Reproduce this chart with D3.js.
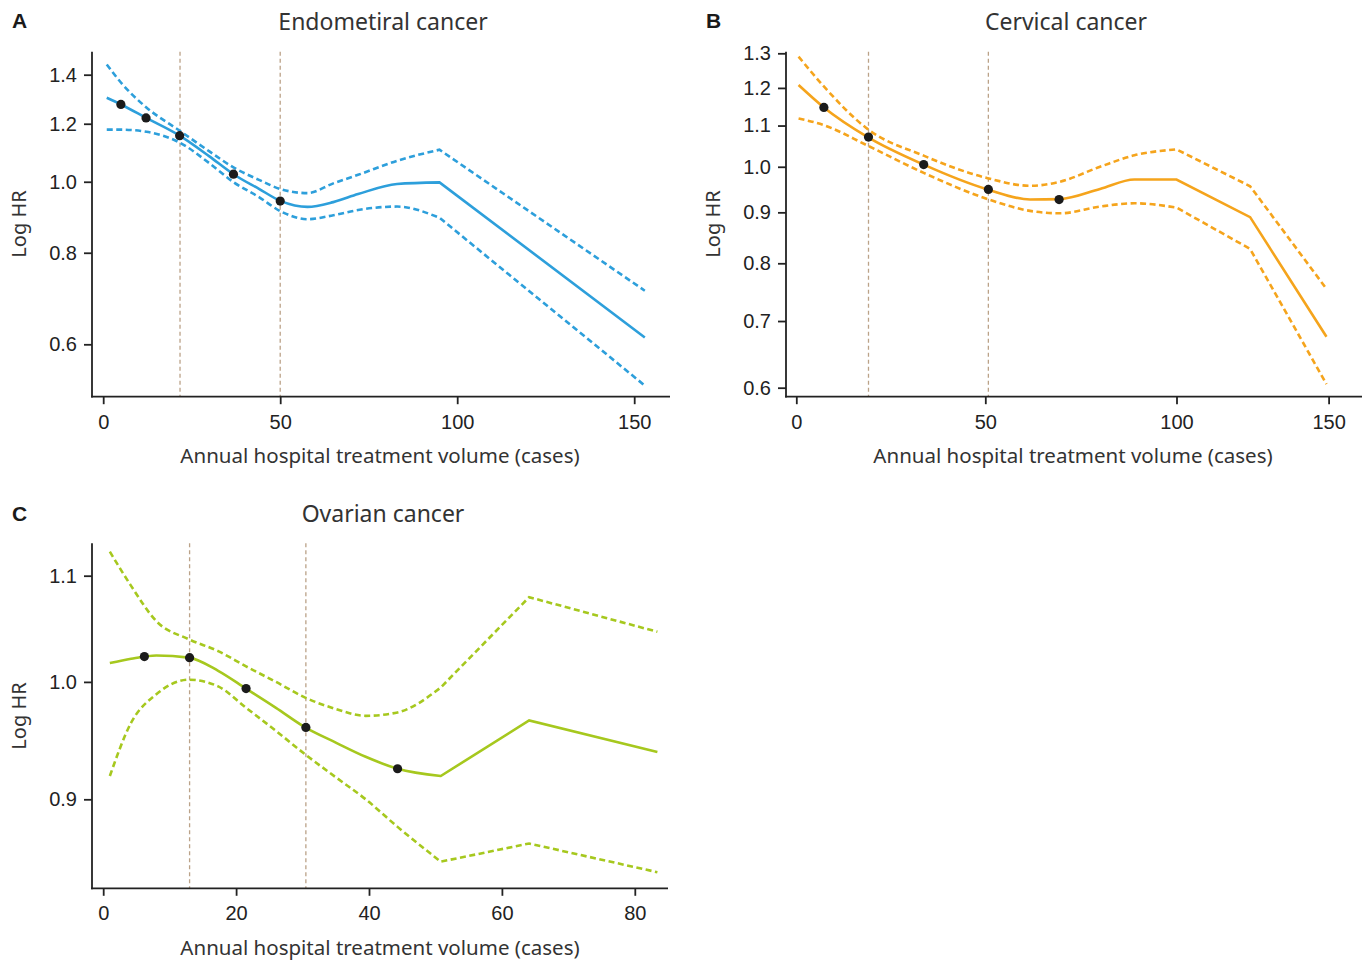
<!DOCTYPE html>
<html><head><meta charset="utf-8">
<script src="https://cdn.jsdelivr.net/npm/d3@7"></script>
<style>body{margin:0;background:#fff} svg{display:block}</style>
</head><body>
<svg id="c" width="1371" height="962"></svg>
<script>
// ---------------- DATA ----------------
// A: Endometrial cancer
const endoX     = [1, 5, 12.2, 21.6, 30, 36.8, 44, 50.2, 57.7, 65, 72, 83, 95, 153];
const endoFit   = [1.302, 1.275, 1.222, 1.156, 1.083, 1.024, 0.978, 0.941, 0.924, 0.938, 0.962, 0.993, 0.998, 0.613];
const endoUpper = [1.446, 1.366, 1.263, 1.174, 1.100, 1.046, 1.006, 0.977, 0.965, 0.995, 1.022, 1.068, 1.106, 0.710];
const endoLower = [1.178, 1.178, 1.170, 1.131, 1.060, 0.999, 0.953, 0.911, 0.889, 0.900, 0.915, 0.925, 0.893, 0.527];
const endoDotX  = [5.0, 12.1, 21.6, 36.8, 50.0];
const endoDotV  = [1.275, 1.222, 1.156, 1.024, 0.941];
const endoCuts  = [21.7, 50.0];

// B: Cervical cancer
const cervX     = [0.6, 7.3, 18.9, 33.7, 50.6, 61.7, 69.5, 80, 89, 100, 124.2, 149.3];
const cervFit   = [1.208, 1.147, 1.071, 1.005, 0.949, 0.927, 0.928, 0.950, 0.971, 0.971, 0.890, 0.675];
const cervUpper = [1.290, 1.204, 1.091, 1.026, 0.974, 0.957, 0.966, 1.000, 1.027, 1.041, 0.956, 0.754];
const cervLower = [1.118, 1.101, 1.050, 0.986, 0.928, 0.903, 0.898, 0.912, 0.919, 0.910, 0.827, 0.605];
const cervDotX  = [7.3, 19.1, 33.7, 50.8, 69.3];
const cervDotV  = [1.147, 1.071, 1.005, 0.949, 0.927];
const cervCuts  = [19.1, 50.8];

// C: Ovarian cancer
const ovarX     = [1, 4.2, 8, 12.9, 17.3, 21.5, 26, 30.4, 35, 39.5, 44.3, 50.8, 64.1, 83.4];
const ovarFit   = [1.017, 1.021, 1.024, 1.022, 1.010, 0.994, 0.977, 0.960, 0.947, 0.935, 0.925, 0.919, 0.966, 0.939];
const ovarUpper = [1.124, 1.090, 1.056, 1.039, 1.028, 1.014, 1.000, 0.986, 0.976, 0.970, 0.973, 0.995, 1.079, 1.046];
const ovarLower = [0.919, 0.964, 0.989, 1.002, 0.996, 0.977, 0.957, 0.937, 0.918, 0.900, 0.878, 0.851, 0.865, 0.843];
const ovarDotX  = [6.2, 13.0, 21.5, 30.5, 44.3];
const ovarDotV  = [1.023, 1.022, 0.994, 0.960, 0.925];
const ovarCuts  = [13.0, 30.5];

const yTicksA = [0.6, 0.8, 1.0, 1.2, 1.4];
const yTicksB = [0.6, 0.7, 0.8, 0.9, 1.0, 1.1, 1.2, 1.3];
const yTicksC = [0.9, 1.0, 1.1];
const xTicksA = [0, 50, 100, 150];
const xTicksB = [0, 50, 100, 150];
const xTicksC = [0, 20, 40, 60, 80];

const titles = ["Endometiral cancer", "Cervical cancer", "Ovarian cancer"];
const letters = ["A", "B", "C"];
const xTitle = "Annual hospital treatment volume (cases)";
const yTitle = "Log HR";

// ---------------- DRAW ----------------
const svg = d3.select('#c');
const TXT = '#222';

function drawPanel(cfg) {
  const g = svg.append('g');
  const x = cfg.x, y = cfg.y;

  // reference lines
  cfg.cuts.forEach(c => {
    g.append('line').attr('x1', x(c)).attr('x2', x(c))
      .attr('y1', cfg.top).attr('y2', cfg.bottom)
      .attr('stroke', '#bba288').attr('stroke-width', 1.3)
      .attr('stroke-dasharray', '4,3');
  });

  const line = d3.line().x(d => x(d[0])).y(d => y(d[1])).curve(d3.curveMonotoneX);
  function pathFor(xs, vs) {
    const pts = xs.map((xv, i) => [xv, vs[i]]);
    const smooth = pts.filter(p => p[0] <= cfg.knot);
    const tail = pts.filter(p => p[0] > cfg.knot);
    return line(smooth) + tail.map(p => 'L' + x(p[0]) + ',' + y(p[1])).join('');
  }
  [cfg.upper, cfg.lower].forEach(vs => {
    g.append('path').attr('d', pathFor(cfg.xs, vs))
      .attr('fill', 'none').attr('stroke', cfg.color).attr('stroke-width', 2.6)
      .attr('stroke-dasharray', '6,3.5');
  });
  g.append('path').attr('d', pathFor(cfg.xs, cfg.fit))
    .attr('fill', 'none').attr('stroke', cfg.color).attr('stroke-width', 2.6);

  g.selectAll('circle.dot').data(cfg.dotX.map((d, i) => [d, cfg.dotV[i]]))
    .enter().append('circle').attr('class', 'dot')
    .attr('cx', d => x(d[0])).attr('cy', d => y(d[1])).attr('r', 4.6)
    .attr('fill', '#1b1b1b');

  // y axis
  const ya = g.append('g').attr('transform', `translate(${cfg.left},0)`)
    .call(d3.axisLeft(y).tickValues(cfg.yTicks).tickFormat(d3.format('.1f'))
      .tickSize(8).tickPadding(7));
  ya.select('.domain').remove();
  // x axis
  const xa = g.append('g').attr('transform', `translate(0,${cfg.bottom})`)
    .call(d3.axisBottom(x).tickValues(cfg.xTicks).tickFormat(d3.format('d'))
      .tickSize(7.5).tickPadding(10.5));
  xa.select('.domain').remove();
  [ya, xa].forEach(a => {
    a.attr('font-family', 'Liberation Sans, Arial, sans-serif').attr('font-size', 20);
    a.selectAll('.tick line').attr('stroke', '#222').attr('stroke-width', 1.8);
    a.selectAll('.tick text').attr('fill', TXT)
      .style('font-family', '"Liberation Sans", Arial, sans-serif').style('font-size', '20px');
  });
  g.append('line').attr('x1', cfg.left).attr('x2', cfg.left)
    .attr('y1', cfg.top).attr('y2', cfg.bottom + 0.9)
    .attr('stroke', '#222').attr('stroke-width', 1.8);
  g.append('line').attr('x1', cfg.left - 0.9).attr('x2', cfg.right)
    .attr('y1', cfg.bottom).attr('y2', cfg.bottom)
    .attr('stroke', '#222').attr('stroke-width', 1.8);

  // texts
  const font = '"Noto Sans", "Open Sans", sans-serif';
  g.append('text').attr('x', cfg.titleX).attr('y', cfg.titleY)
    .attr('text-anchor', 'middle').attr('dominant-baseline', 'central')
    .style('font-family', font).style('font-size', '23px').attr('fill', '#333')
    .text(cfg.title);
  g.append('text').attr('x', cfg.xtX).attr('y', cfg.xtY)
    .attr('text-anchor', 'middle').attr('dominant-baseline', 'central')
    .style('font-family', font).style('font-size', '20.5px').attr('fill', '#333')
    .text(xTitle);
  g.append('text').attr('transform', `translate(${cfg.ytX},${cfg.ytY}) rotate(-90)`)
    .attr('text-anchor', 'middle').attr('dominant-baseline', 'central')
    .style('font-family', font).style('font-size', '20px').attr('fill', '#333')
    .text(yTitle);
  g.append('text').attr('x', cfg.letterX).attr('y', cfg.letterY)
    .style('font-family', '"Liberation Sans", Arial, sans-serif').style('font-weight', 'bold')
    .style('font-size', '21px').attr('fill', '#1a1a1a')
    .text(cfg.letter);
}

drawPanel({
  x: d3.scaleLinear().domain([0, 150]).range([103.2, 634.2]),
  y: d3.scaleLog().domain([1.4, 0.6]).range([74.7, 344.3]),
  xs: endoX, fit: endoFit, upper: endoUpper, lower: endoLower,
  dotX: endoDotX, dotV: endoDotV, cuts: endoCuts, knot: 95,
  yTicks: yTicksA, xTicks: xTicksA, color: '#2d9fdb',
  left: 92, right: 670, top: 51.7, bottom: 396.7,
  title: titles[0], titleX: 383, titleY: 21,
  xtX: 380, xtY: 455, ytX: 18, ytY: 224,
  letter: letters[0], letterX: 12, letterY: 28
});

drawPanel({
  x: d3.scaleLinear().domain([0, 50, 100, 150]).range([796.3, 985.3, 1176.5, 1328.6]),
  y: d3.scaleLog().domain([1.3, 0.6]).range([53.3, 387.7]),
  xs: cervX, fit: cervFit, upper: cervUpper, lower: cervLower,
  dotX: cervDotX, dotV: cervDotV, cuts: cervCuts, knot: 100,
  yTicks: yTicksB, xTicks: xTicksB, color: '#f5a41c',
  left: 786, right: 1362, top: 51.7, bottom: 396.7,
  title: titles[1], titleX: 1066, titleY: 21,
  xtX: 1073, xtY: 455, ytX: 712, ytY: 224,
  letter: letters[1], letterX: 706, letterY: 28
});

drawPanel({
  x: d3.scaleLinear().domain([0, 80]).range([103.2, 634.8]),
  y: d3.scaleLog().domain([1.1, 0.9]).range([575.7, 799.3]),
  xs: ovarX, fit: ovarFit, upper: ovarUpper, lower: ovarLower,
  dotX: ovarDotX, dotV: ovarDotV, cuts: ovarCuts, knot: 50.8,
  yTicks: yTicksC, xTicks: xTicksC, color: '#a6c81e',
  left: 92, right: 668, top: 543.3, bottom: 888.3,
  title: titles[2], titleX: 383, titleY: 513,
  xtX: 380, xtY: 947, ytX: 18, ytY: 716,
  letter: letters[2], letterX: 12, letterY: 521
});
</script>
</body></html>
